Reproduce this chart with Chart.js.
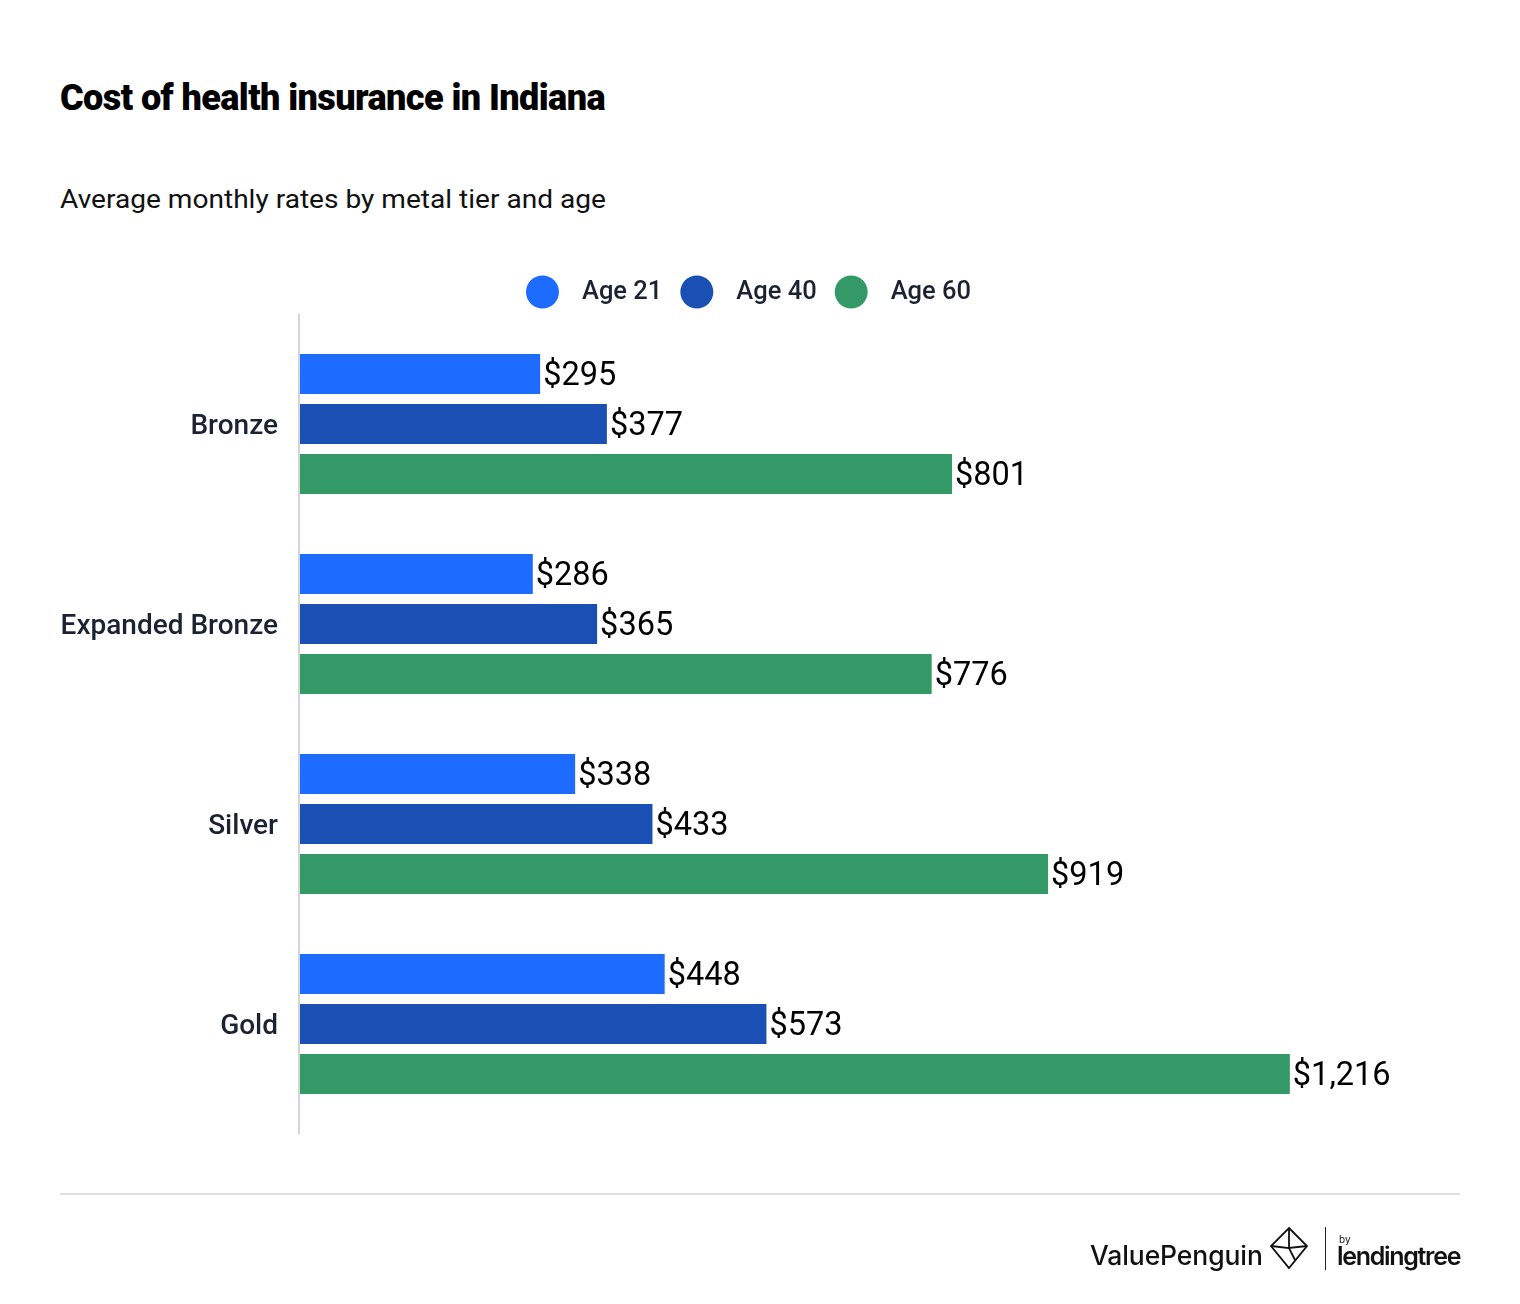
<!DOCTYPE html>
<html>
<head>
<meta charset="utf-8">
<script src="https://cdn.jsdelivr.net/npm/chart.js@4.4.1/dist/chart.umd.min.js"></script>
<style>
  html, body { margin: 0; padding: 0; background: #ffffff; }
  body { width: 1520px; height: 1304px; position: relative; overflow: hidden; font-family: Roboto, "Noto Sans", sans-serif; }
  #chart { position: absolute; left: 0; top: 0; }
  .title { position: absolute; left: 60px; top: 80px; font-size: 36px; line-height: 36px; font-weight: 900; color: #000; white-space: nowrap; transform-origin: left top; letter-spacing: -0.6px; }
  .subtitle { position: absolute; left: 60px; top: 186px; font-size: 26px; line-height: 26px; font-weight: 400; color: #111; white-space: nowrap; transform-origin: left top; }
  .rule { position: absolute; left: 60px; top: 1193px; width: 1400px; height: 2px; background: #e0e0e0; }
  .vp { position: absolute; left: 1090px; top: 1240px; font-family: Inter, "Open Sans", sans-serif; font-size: 26.5px; line-height: 30px; font-weight: 500; color: #111; white-space: nowrap; letter-spacing: -0.1px; }
  .sep { position: absolute; left: 1325px; top: 1227px; width: 1px; height: 43px; background: #222; }
  .by { position: absolute; left: 1339px; top: 1234px; font-family: Inter, sans-serif; font-size: 10px; line-height: 10px; color: #111; }
  .lt { position: absolute; left: 1337px; top: 1241px; font-family: Inter, "Open Sans", sans-serif; font-size: 25px; line-height: 30px; font-weight: 600; color: #111; letter-spacing: -1.3px; white-space: nowrap; }
  .icon { position: absolute; left: 1269px; top: 1226px; }
</style>
</head>
<body>
<div class="title" id="title">Cost of health insurance in Indiana</div>
<div class="subtitle" id="subtitle">Average monthly rates by metal tier and age</div>
<canvas id="chart" width="1520" height="1304"></canvas>
<div class="rule"></div>
<div class="vp">ValuePenguin</div>
<svg class="icon" width="40" height="44" viewBox="0 0 40 44">
  <g fill="none" stroke="#111" stroke-width="1.8" stroke-linejoin="miter">
    <polygon points="20,2 38,20 20,42 2,20"/>
    <polyline points="20,2 20,22 38,20"/>
    <polyline points="2,20 20,22 26,34"/>
  </g>
</svg>
<div class="sep"></div>
<div class="by">by</div>
<div class="lt">lendingtree</div>
<script>
// ---- data ----
const categories = ['Bronze', 'Expanded Bronze', 'Silver', 'Gold'];
const seriesLabels = ['Age 21', 'Age 40', 'Age 60'];
const age21 = [295, 286, 338, 448];
const age40 = [377, 365, 433, 573];
const age60 = [801, 776, 919, 1216];
const xMax = 1398;

const colors = ['#1E6CFF', '#1A4FB4', '#339966'];

function fitWidth(id, target) {
  const el = document.getElementById(id);
  const w = el.getBoundingClientRect().width;
  if (w > 0) el.style.transform = 'scaleX(' + (target / w) + ')';
}
fitWidth('title', 545);
fitWidth('subtitle', 546);

Chart.defaults.font.family = 'Roboto, "Noto Sans", sans-serif';

const axisLine = {
  id: 'axisLine',
  beforeDatasetsDraw(chart) {
    const ctx = chart.ctx, a = chart.chartArea;
    ctx.save();
    ctx.strokeStyle = '#d4d4d4';
    ctx.lineWidth = 2;
    ctx.beginPath();
    ctx.moveTo(a.left - 1, a.top - 10);
    ctx.lineTo(a.left - 1, a.bottom + 10);
    ctx.stroke();
    ctx.restore();
  }
};

const valueLabels = {
  id: 'valueLabels',
  afterDatasetsDraw(chart) {
    const ctx = chart.ctx;
    ctx.save();
    ctx.font = '400 32.5px Roboto, "Noto Sans", sans-serif';
    ctx.fillStyle = '#000000';
    ctx.textAlign = 'left';
    ctx.textBaseline = 'middle';
    chart.data.datasets.forEach((ds, i) => {
      const meta = chart.getDatasetMeta(i);
      meta.data.forEach((bar, j) => {
        const v = ds.data[j];
        ctx.fillText('$' + v.toLocaleString('en-US'), bar.x + 3, bar.y + 2.5);
      });
    });
    ctx.restore();
  }
};

const customLegend = {
  id: 'customLegend',
  afterDraw(chart) {
    const ctx = chart.ctx;
    ctx.save();
    ctx.font = '500 25.5px Roboto, "Noto Sans", sans-serif';
    const d = 33, gapText = 23, gapItem = 18;
    const items = chart.data.datasets.map(ds => ({ text: ds.label, color: ds.backgroundColor, w: ctx.measureText(ds.label).width }));
    let total = 0;
    items.forEach((it, i) => { total += d + gapText + it.w + (i < items.length - 1 ? gapItem : 0); });
    let x = 748.5 - total / 2;
    const cy = 292;
    items.forEach(it => {
      ctx.fillStyle = it.color;
      ctx.beginPath();
      ctx.arc(x + d / 2, cy, d / 2, 0, Math.PI * 2);
      ctx.fill();
      ctx.fillStyle = '#1b2333';
      ctx.textBaseline = 'middle';
      ctx.textAlign = 'left';
      ctx.fillText(it.text, x + d + gapText, cy + 1);
      x += d + gapText + it.w + gapItem;
    });
    ctx.restore();
  }
};

new Chart(document.getElementById('chart'), {
  type: 'bar',
  data: {
    labels: categories,
    datasets: [
      { label: seriesLabels[0], data: age21, backgroundColor: colors[0] },
      { label: seriesLabels[1], data: age40, backgroundColor: colors[1] },
      { label: seriesLabels[2], data: age60, backgroundColor: colors[2] }
    ]
  },
  options: {
    indexAxis: 'y',
    responsive: false,
    animation: false,
    devicePixelRatio: 1,
    layout: { padding: { top: 324, bottom: 180, left: 60, right: 82 } },
    datasets: { bar: { categoryPercentage: 0.75, barPercentage: 0.8, borderWidth: 0 } },
    plugins: { legend: { display: false }, tooltip: { enabled: false }, title: { display: false } },
    scales: {
      x: { display: false, min: 0, max: xMax },
      y: {
        grid: { display: false, drawTicks: false },
        border: { display: false },
        ticks: { padding: 22, labelOffset: 3, color: '#1b2333', font: { size: 28, weight: '500' } },
        afterFit(scale) { scale.width = 240; }
      }
    }
  },
  plugins: [axisLine, valueLabels, customLegend]
});
</script>
</body>
</html>
